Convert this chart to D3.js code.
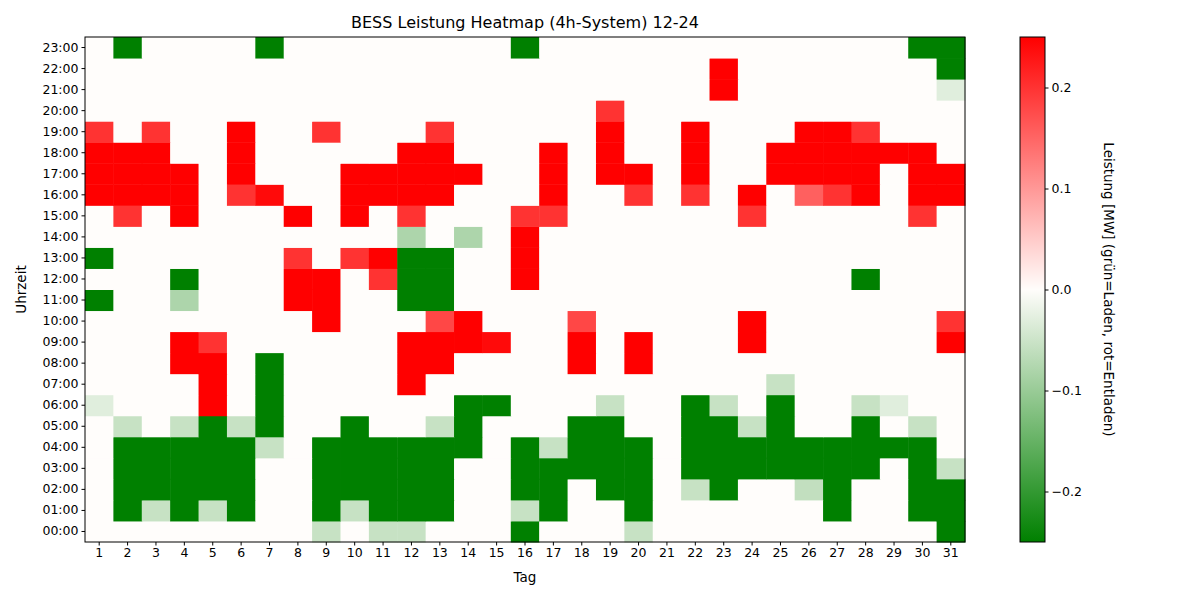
<!DOCTYPE html>
<html><head><meta charset="utf-8">
<script src="https://cdn.jsdelivr.net/npm/d3@7"></script>
<style>body{margin:0;background:#fff;font-family:"DejaVu Sans",sans-serif;}</style>
</head><body><svg id="c" width="1200" height="600"></svg>
<script>
const days = d3.range(1, 32);
const hourLabels = d3.range(0, 24).map(h => String(h).padStart(2, "0") + ":00");
// sparse cells per hour: [day, MW]; all others 0
const h00 = [[9,-0.055],[11,-0.055],[12,-0.055],[16,-0.25],[20,-0.055],[31,-0.25]];
const h01 = [[2,-0.25],[3,-0.055],[4,-0.25],[5,-0.055],[6,-0.25],[9,-0.25],[10,-0.055],[11,-0.25],[12,-0.25],[13,-0.25],[16,-0.055],[17,-0.25],[20,-0.25],[27,-0.25],[30,-0.25],[31,-0.25]];
const h02 = [[2,-0.25],[3,-0.25],[4,-0.25],[5,-0.25],[6,-0.25],[9,-0.25],[10,-0.25],[11,-0.25],[12,-0.25],[13,-0.25],[16,-0.25],[17,-0.25],[19,-0.25],[20,-0.25],[22,-0.055],[23,-0.25],[26,-0.06],[27,-0.25],[30,-0.25],[31,-0.25]];
const h03 = [[2,-0.25],[3,-0.25],[4,-0.25],[5,-0.25],[6,-0.25],[9,-0.25],[10,-0.25],[11,-0.25],[12,-0.25],[13,-0.25],[16,-0.25],[17,-0.25],[18,-0.25],[19,-0.25],[20,-0.25],[22,-0.25],[23,-0.25],[24,-0.25],[25,-0.25],[26,-0.25],[27,-0.25],[28,-0.25],[30,-0.25],[31,-0.055]];
const h04 = [[2,-0.25],[3,-0.25],[4,-0.25],[5,-0.25],[6,-0.25],[7,-0.055],[9,-0.25],[10,-0.25],[11,-0.25],[12,-0.25],[13,-0.25],[14,-0.25],[16,-0.25],[17,-0.055],[18,-0.25],[19,-0.25],[20,-0.25],[22,-0.25],[23,-0.25],[24,-0.25],[25,-0.25],[26,-0.25],[27,-0.25],[28,-0.25],[29,-0.25],[30,-0.25]];
const h05 = [[2,-0.055],[4,-0.055],[5,-0.25],[6,-0.055],[7,-0.25],[10,-0.25],[13,-0.055],[14,-0.25],[18,-0.25],[19,-0.25],[22,-0.25],[23,-0.25],[24,-0.055],[25,-0.25],[28,-0.25],[30,-0.055]];
const h06 = [[1,-0.03],[5,0.25],[7,-0.25],[14,-0.25],[15,-0.25],[19,-0.055],[22,-0.25],[23,-0.055],[25,-0.25],[28,-0.055],[29,-0.03]];
const h07 = [[5,0.25],[7,-0.25],[12,0.25],[25,-0.055]];
const h08 = [[4,0.25],[5,0.25],[7,-0.25],[12,0.25],[13,0.25],[18,0.25],[20,0.25]];
const h09 = [[4,0.25],[5,0.2],[12,0.25],[13,0.25],[14,0.25],[15,0.24],[18,0.25],[20,0.25],[24,0.25],[31,0.25]];
const h10 = [[9,0.25],[13,0.18],[14,0.25],[18,0.18],[24,0.25],[31,0.2]];
const h11 = [[1,-0.25],[4,-0.08],[8,0.25],[9,0.25],[12,-0.25],[13,-0.25]];
const h12 = [[4,-0.25],[8,0.25],[9,0.25],[11,0.2],[12,-0.25],[13,-0.25],[16,0.25],[28,-0.25]];
const h13 = [[1,-0.25],[8,0.2],[10,0.2],[11,0.25],[12,-0.25],[13,-0.25],[16,0.25]];
const h14 = [[12,-0.08],[14,-0.08],[16,0.25]];
const h15 = [[2,0.2],[4,0.25],[8,0.25],[10,0.25],[12,0.2],[16,0.2],[17,0.2],[24,0.2],[30,0.2]];
const h16 = [[1,0.25],[2,0.25],[3,0.25],[4,0.25],[6,0.2],[7,0.24],[10,0.25],[11,0.25],[12,0.25],[13,0.25],[17,0.25],[20,0.2],[22,0.2],[24,0.25],[26,0.155],[27,0.2],[28,0.25],[30,0.25],[31,0.25]];
const h17 = [[1,0.25],[2,0.25],[3,0.25],[4,0.25],[6,0.25],[10,0.25],[11,0.25],[12,0.25],[13,0.25],[14,0.25],[17,0.25],[19,0.25],[20,0.25],[22,0.25],[25,0.25],[26,0.25],[27,0.25],[28,0.25],[30,0.25],[31,0.25]];
const h18 = [[1,0.25],[2,0.25],[3,0.25],[6,0.25],[12,0.25],[13,0.25],[17,0.25],[19,0.25],[22,0.25],[25,0.25],[26,0.25],[27,0.25],[28,0.25],[29,0.25],[30,0.25]];
const h19 = [[1,0.2],[3,0.2],[6,0.25],[9,0.2],[13,0.2],[19,0.25],[22,0.25],[26,0.25],[27,0.25],[28,0.2]];
const h20 = [[19,0.2]];
const h21 = [[23,0.25],[31,-0.03]];
const h22 = [[23,0.25],[31,-0.25]];
const h23 = [[2,-0.25],[7,-0.25],[16,-0.25],[30,-0.25],[31,-0.25]];
const hourRows = [h00,h01,h02,h03,h04,h05,h06,h07,h08,h09,h10,h11,h12,h13,h14,h15,h16,h17,h18,h19,h20,h21,h22,h23];
const cbTicks = [-0.2,-0.1,0.0,0.1,0.2];

const cells = [];
hourRows.forEach((row, h) => {
  const m = new Map(row);
  days.forEach(d => cells.push({d, h, v: m.has(d) ? m.get(d) : 0}));
});

const svg = d3.select("#c");
const L = 85, R = 965, T = 37, B = 542;
const x = d3.scaleBand().domain(days).range([L, R]);
const y = d3.scaleBand().domain(d3.range(23, -1, -1)).range([T, B]);
const color = d3.scaleLinear().domain([-0.25, 0, 0.25]).range(["#008000", "#fffdfb", "#ff0000"]).clamp(true);

svg.append("g").selectAll("rect").data(cells).join("rect")
  .attr("x", c => x(c.d)).attr("y", c => y(c.h))
  .attr("width", x.bandwidth() + 0.5).attr("height", y.bandwidth() + 0.5)
  .attr("fill", c => color(c.v));
svg.append("rect").attr("x", L).attr("y", T).attr("width", R - L).attr("height", B - T)
  .attr("fill", "none").attr("stroke", "#000").attr("stroke-width", 1);

const xa = svg.append("g").attr("transform", `translate(0,${B})`).call(d3.axisBottom(x).tickSize(3.5).tickSizeOuter(0));
const ya = svg.append("g").attr("transform", `translate(${L},0)`).call(d3.axisLeft(y).tickFormat(h => hourLabels[h]).tickSize(3.5).tickSizeOuter(0));
[xa, ya].forEach(a => { a.select(".domain").remove(); a.selectAll("text").attr("font-size", 12.5).attr("fill", "#000").attr("font-family", "DejaVu Sans"); });

svg.append("text").attr("x", (L + R) / 2).attr("y", 28).attr("text-anchor", "middle").attr("font-size", 16).text("BESS Leistung Heatmap (4h-System) 12-24");
svg.append("text").attr("x", (L + R) / 2).attr("y", 582).attr("text-anchor", "middle").attr("font-size", 13.5).text("Tag");
svg.append("text").attr("transform", `translate(26,${(T + B) / 2}) rotate(-90)`).attr("text-anchor", "middle").attr("font-size", 13.5).text("Uhrzeit");

// colorbar
const cbX = 1020, cbW = 25;
const defs = svg.append("defs");
const grad = defs.append("linearGradient").attr("id", "g").attr("x1", 0).attr("y1", 1).attr("x2", 0).attr("y2", 0);
[-0.25, 0, 0.25].forEach((v, i) => grad.append("stop").attr("offset", i / 2).attr("stop-color", color(v)));
svg.append("rect").attr("x", cbX).attr("y", T).attr("width", cbW).attr("height", B - T).attr("fill", "url(#g)").attr("stroke", "#000");
const cy = d3.scaleLinear().domain([-0.25, 0.25]).range([B, T]);
const ca = svg.append("g").attr("transform", `translate(${cbX + cbW},0)`).call(d3.axisRight(cy).tickValues(cbTicks).tickFormat(v => v === 0 ? "0.0" : d3.format(".1f")(v).replace("-", "\u2212")).tickSize(3.5));
ca.select(".domain").remove();
ca.selectAll("text").attr("font-size", 12.5).attr("font-family", "DejaVu Sans");
svg.append("text").attr("transform", `translate(1104,${(T + B) / 2}) rotate(90)`).attr("text-anchor", "middle").attr("font-size", 13.5).text("Leistung [MW] (grün=Laden, rot=Entladen)");
</script></body></html>
